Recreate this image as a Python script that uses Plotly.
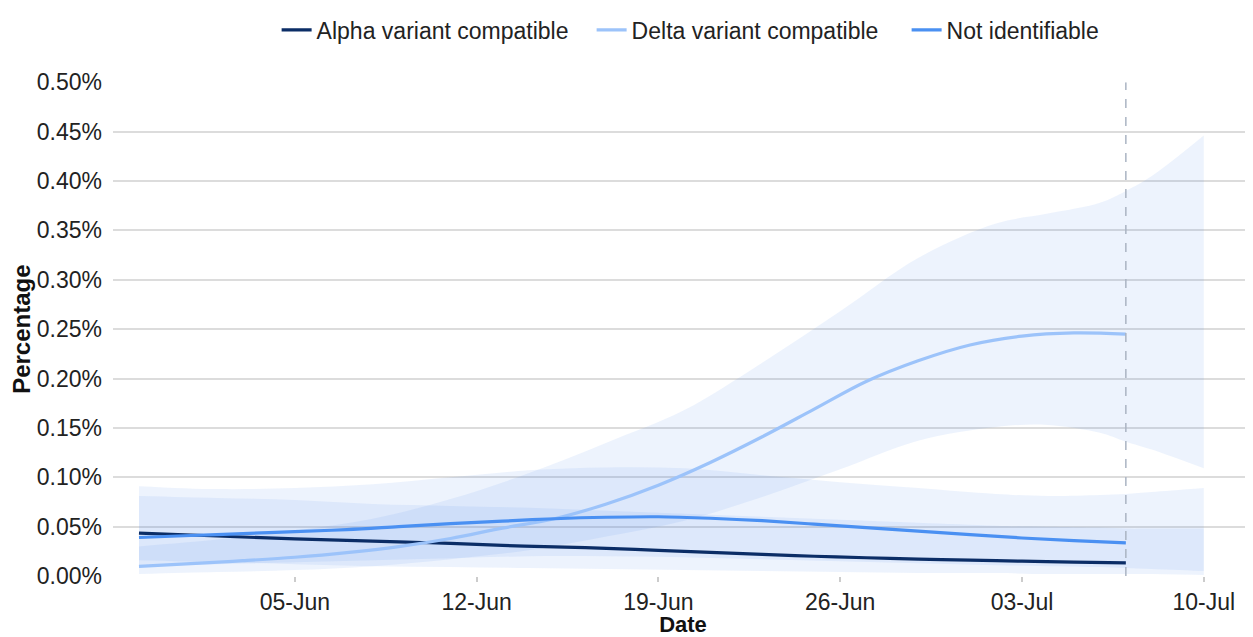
import plotly.graph_objects as go

# ---- data ----
line_dates = ["2021-05-30", "2021-06-01", "2021-06-03", "2021-06-05", "2021-06-07",
              "2021-06-09", "2021-06-11", "2021-06-13", "2021-06-15", "2021-06-17",
              "2021-06-19", "2021-06-21", "2021-06-23", "2021-06-25", "2021-06-27",
              "2021-06-29", "2021-07-01", "2021-07-03", "2021-07-05", "2021-07-07"]

alpha_vals = [0.0435, 0.0415, 0.0395, 0.0375, 0.036, 0.0345, 0.033, 0.031, 0.0295, 0.028,
              0.026, 0.024, 0.022, 0.020, 0.0185, 0.017, 0.016, 0.015, 0.014, 0.0133]
delta_vals = [0.0097, 0.0125, 0.0155, 0.019, 0.0237, 0.0298, 0.038, 0.0485, 0.058, 0.073,
              0.092, 0.115, 0.141, 0.169, 0.197, 0.218, 0.234, 0.243, 0.2462, 0.245]
notid_vals = [0.039, 0.041, 0.043, 0.045, 0.047, 0.050, 0.053, 0.0555, 0.058, 0.0595,
              0.060, 0.0585, 0.056, 0.0525, 0.049, 0.0455, 0.042, 0.0385, 0.0358, 0.0335]

band_dates = ["2021-05-30", "2021-06-02", "2021-06-05", "2021-06-08", "2021-06-11",
              "2021-06-14", "2021-06-17", "2021-06-20", "2021-06-23", "2021-06-26",
              "2021-06-29", "2021-07-02", "2021-07-04", "2021-07-06", "2021-07-07",
              "2021-07-08", "2021-07-10"]

alpha_upper = [0.081, 0.079, 0.077, 0.073, 0.071, 0.069, 0.066, 0.063, 0.060, 0.057,
               0.054, 0.051, 0.050, 0.049, 0.048, 0.048, 0.048]
alpha_lower = [0.016, 0.014, 0.012, 0.010, 0.009, 0.008, 0.007, 0.006, 0.005, 0.004,
               0.003, 0.003, 0.002, 0.002, 0.002, 0.002, 0.001]
delta_upper = [0.030, 0.037, 0.046, 0.058, 0.078, 0.104, 0.135, 0.168, 0.216, 0.268,
               0.322, 0.357, 0.367, 0.378, 0.390, 0.405, 0.446]
delta_lower = [0.002, 0.004, 0.006, 0.010, 0.017, 0.026, 0.040, 0.056, 0.080, 0.108,
               0.137, 0.151, 0.153, 0.145, 0.136, 0.128, 0.109]
notid_upper = [0.091, 0.088, 0.089, 0.093, 0.100, 0.107, 0.110, 0.109, 0.102, 0.095,
               0.089, 0.083, 0.081, 0.082, 0.083, 0.085, 0.089]
notid_lower = [0.010, 0.012, 0.014, 0.016, 0.018, 0.020, 0.020, 0.019, 0.017, 0.015,
               0.013, 0.011, 0.010, 0.009, 0.008, 0.007, 0.005]

series_names = ["Alpha variant compatible", "Delta variant compatible", "Not identifiable"]
series_colors = ["#0b2d66", "#9cc3fa", "#4a90f2"]
last_obs_date = "2021-07-07"

y_ticks = [0, 0.05, 0.10, 0.15, 0.20, 0.25, 0.30, 0.35, 0.40, 0.45, 0.50]
y_tick_text = ["0.00%", "0.05%", "0.10%", "0.15%", "0.20%", "0.25%", "0.30%",
               "0.35%", "0.40%", "0.45%", "0.50%"]
x_ticks = ["2021-06-05", "2021-06-12", "2021-06-19", "2021-06-26", "2021-07-03", "2021-07-10"]
x_tick_text = ["05-Jun", "12-Jun", "19-Jun", "26-Jun", "03-Jul", "10-Jul"]

FONT = "Arial, 'Liberation Sans', sans-serif"
band_fill = "rgba(95,145,240,0.11)"

fig = go.Figure()

for lo, up in [(alpha_lower, alpha_upper), (notid_lower, notid_upper), (delta_lower, delta_upper)]:
    fig.add_trace(go.Scatter(x=band_dates, y=lo, mode="lines", line=dict(width=0, shape="spline"),
                             showlegend=False, hoverinfo="skip"))
    fig.add_trace(go.Scatter(x=band_dates, y=up, mode="lines", line=dict(width=0, shape="spline"),
                             fill="tonexty", fillcolor=band_fill, showlegend=False, hoverinfo="skip"))

for name, vals, col in zip(series_names, [alpha_vals, delta_vals, notid_vals], series_colors):
    fig.add_trace(go.Scatter(x=line_dates, y=vals, mode="lines", name=name,
                             line=dict(color=col, width=3.2, shape="spline")))

# page body has an 8px margin; lay the figure out so the plot lands where the reference has it
OFF = 8
W, H = 1253 - OFF, 637 - OFF
ML, MT, MB = 113 - OFF, 2, 61
paper_h = H - MT - MB
plot_top = 77 - OFF
dom_top = 1 - (plot_top - MT) / paper_h
legend_y = (H - MB - (24 - OFF)) / paper_h

fig.add_shape(type="line", xref="x", yref="y", x0=last_obs_date, x1=last_obs_date,
              y0=0, y1=0.5, line=dict(color="#aab4c3", width=1.5, dash="dash"), layer="above")

fig.update_layout(
    width=W, height=H,
    margin=dict(l=ML, r=0, t=MT, b=MB),
    paper_bgcolor="white", plot_bgcolor="white",
    font=dict(family=FONT, size=23, color="#222222"),
    legend=dict(orientation="h", x=0.558, xanchor="center", y=legend_y, yanchor="middle",
                font=dict(size=23, color="#222222"), traceorder="normal",
                bgcolor="rgba(0,0,0,0)", entrywidth=270, entrywidthmode="pixels"),
    showlegend=True,
)
fig.update_xaxes(
    range=["2021-05-29 00:00", "2021-07-11 21:30"],
    tickvals=x_ticks, ticktext=x_tick_text, automargin=False,
    showgrid=False, zeroline=False, showline=False,
    ticks="outside", ticklen=5, tickcolor="#cccccc", tickwidth=1.5,
    tickfont=dict(size=23, color="#222222"),
    title=dict(text="<b>Date</b>", font=dict(size=22, color="#111111"), standoff=0),
)
fig.update_yaxes(
    domain=[0, dom_top],
    range=[0, 0.5], tickvals=y_ticks, ticktext=y_tick_text, automargin=False,
    showgrid=True, gridcolor="#dcdcdc", gridwidth=1.5,
    zeroline=False, showline=False, ticks="", ticklabelstandoff=10,
    tickfont=dict(size=23, color="#222222"),
    title=dict(text="<b>Percentage</b>", font=dict(size=24, color="#111111"), standoff=0),
)

fig.write_html("out.html")
